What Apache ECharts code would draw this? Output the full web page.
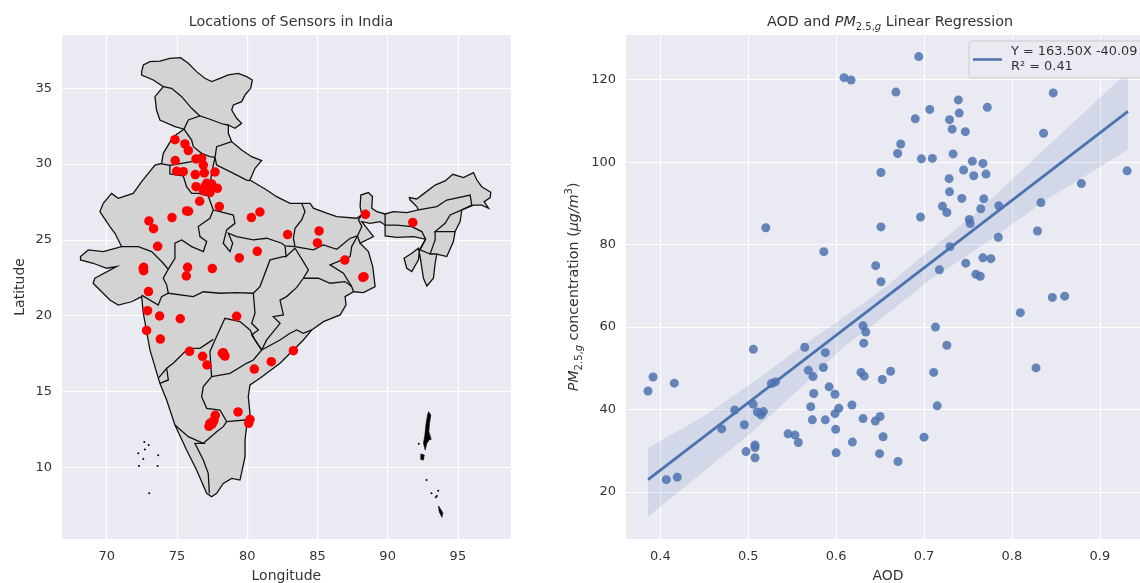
<!DOCTYPE html>
<html>
<head>
<meta charset="utf-8">
<style>html,body{margin:0;padding:0;background:#fff}#c{width:1140px;height:583px}</style>
<script src="https://cdn.jsdelivr.net/npm/echarts@6/dist/echarts.min.js"></script>
</head>
<body>
<div id="c"></div>
<script>
const lonTicks=[70,75,80,85,90,95];
const latTicks=[10,15,20,25,30,35];
const aodTicks=[0.4,0.5,0.6,0.7,0.8,0.9];
const pmTicks=[20,40,60,80,100,120];

const sensors=[[74.86,31.61],[75.57,31.33],[75.81,30.89],[74.88,30.23],[76.36,30.34],[76.76,30.38],[76.88,29.94],[74.98,29.53],[75.45,29.5],[76.31,29.31],[76.95,29.42],[77.71,29.48],[76.36,28.51],[77.12,28.73],[77.47,28.69],[76.88,28.25],[77.35,28.12],[77.88,28.4],[77.12,28.4],[77.35,28.51],[77,28.51],[76.62,27.55],[78.02,27.2],[75.69,26.91],[75.83,26.89],[74.65,26.47],[73.01,26.25],[73.34,25.74],[73.63,24.58],[80.3,26.47],[80.91,26.84],[82.88,25.35],[72.63,23.19],[72.63,22.97],[72.6,23.09],[75.76,23.19],[75.67,22.62],[77.52,23.11],[79.44,23.81],[80.72,24.25],[85.12,25.59],[85,24.8],[88.42,26.69],[91.79,26.15],[86.95,23.67],[88.32,22.57],[88.23,22.53],[72.98,21.59],[72.91,20.33],[73.77,19.98],[75.24,19.8],[79.25,19.96],[72.84,19.03],[73.82,18.46],[75.9,17.65],[76.83,17.32],[77.14,16.75],[78.23,17.52],[78.42,17.34],[78.3,17.56],[78.35,17.41],[81.72,16.97],[80.51,16.48],[83.29,17.69],[79.35,13.65],[77.73,13.43],[80.2,13.16],[80.11,12.9],[77.59,13.01],[77.35,12.9],[77.28,12.7],[77.5,12.85],[77.64,13.12]];

const indiaOutline=[[72.49,36.1],[72.61,36.54],[73.08,36.76],[73.79,36.8],[74.5,36.98],[75.26,37.02],[75.81,36.65],[76.4,36.1],[76.99,35.66],[77.47,35.44],[78.07,35.66],[78.66,35.88],[79.37,35.99],[79.96,35.77],[80.37,35.55],[80.25,35],[79.85,34.56],[79.61,34.12],[79.02,33.9],[78.9,33.57],[79.25,33.02],[79.61,32.69],[79.13,32.36],[78.66,32.58],[78.66,32.03],[78.9,31.48],[79.61,30.93],[80.32,30.49],[81.03,30.23],[80.56,29.72],[80.2,28.95],[81.39,28.29],[82.1,27.85],[83.05,27.41],[83.88,27.41],[84.48,27.41],[84.71,27.09],[85.66,26.76],[86.38,26.54],[87.8,26.43],[88.16,26.65],[88.04,27.2],[88.09,27.96],[88.63,28.12],[88.92,27.86],[88.87,27.09],[89.22,26.87],[89.82,26.71],[90.41,26.87],[91.36,26.8],[92.19,26.98],[92.07,27.2],[91.6,27.63],[91.55,27.79],[92.07,27.7],[92.67,28.12],[93.38,28.62],[94.09,28.89],[94.64,29.33],[95.4,29.11],[96.11,29.44],[96.35,28.95],[96.7,28.51],[97.34,28.14],[97.3,27.79],[96.87,27.52],[97.18,27.09],[96.7,27.3],[96.11,27.3],[95.28,26.98],[95.16,26.21],[94.8,25.55],[94.68,24.89],[94.21,23.9],[93.5,24.07],[93.38,23.46],[93.26,22.47],[92.79,21.96],[92.55,22.47],[92.31,23.9],[92.19,24.45],[91.72,24.12],[91.17,23.79],[91.36,23.13],[91.72,22.91],[92.19,23.68],[92.26,24.34],[92.7,25.05],[91.84,25.22],[90.65,25.17],[89.82,25.26],[89.82,25.98],[89.46,26.2],[88.75,26.09],[88.16,26.2],[88.63,25.65],[88.99,25.22],[88.04,24.78],[88.63,24.23],[88.94,23.24],[89.11,21.92],[88.28,21.52],[87.57,21.58],[86.97,21.26],[87.04,20.71],[86.62,20.05],[85.43,19.61],[84.6,19.06],[84,18.4],[83.29,17.74],[82.34,16.86],[80.91,15.87],[80.2,15.43],[80.08,14.66],[80.2,13.56],[79.96,12.68],[79.85,11.8],[79.85,10.7],[79.49,9.16],[78.9,9.27],[78.3,8.94],[77.83,8.28],[77.47,8.06],[77.12,8.28],[76.4,9.82],[75.69,11.14],[74.86,12.79],[74.27,14.44],[73.79,15.54],[73.08,17.74],[72.61,20.16],[72.49,21.26],[71.77,20.92],[70.82,20.7],[70.23,21.04],[69.04,22.14],[69.16,22.47],[70.71,23.24],[70,23.13],[69.04,23.46],[68.14,23.68],[68.14,23.9],[68.69,24.34],[69.76,24.23],[71.06,24.56],[70.59,25.44],[70.23,25.88],[69.52,26.87],[69.76,27.41],[70.35,28.07],[70.82,27.74],[71.89,28.07],[72.49,28.84],[73.44,29.94],[73.91,30.05],[74.03,30.71],[74.74,31.81],[75.5,32.3],[74.86,32.47],[73.79,32.91],[73.55,33.57],[73.44,34.45],[74.03,35.11],[73.32,35.55],[72.49,35.88]];

const stateBorders=[
[[74.03,35.11],[74.62,35],[75.34,34.45],[76.05,33.68],[76.64,33.18]],
[[75.5,32.3],[75.81,32.91],[76.64,33.18],[77.35,32.96],[78.3,32.63],[78.66,32.58]],
[[75.5,32.3],[76.05,31.59],[76.17,31.15],[76.76,30.71],[77.35,30.49],[77.71,30.45]],
[[78.9,31.48],[77.83,31.15],[77.71,30.45]],
[[77.71,30.45],[77.83,29.94],[78.78,29.5],[79.96,28.95],[80.2,28.91]],
[[73.91,30.01],[74.5,29.92],[74.5,29.35],[75.45,29.22],[75.69,28.51],[76.05,28.07],[76.52,28.07],[77.23,27.9]],
[[74.5,29.92],[76.05,30.16],[76.52,30.53],[76.76,30.71]],
[[77.71,30.45],[77.47,29.39],[77.35,28.51],[77.23,27.9]],
[[77.23,27.9],[77.59,26.97],[78.07,26.87],[79.02,26.64],[79.13,26.09],[78.54,25.66],[78.3,24.78],[78.78,24.23],[78.97,24.78],[78.66,25.44],[79.25,25.22],[80.44,25],[81.39,25.11],[82.46,24.78],[82.7,24.6],[83.41,24.56]],
[[77.59,26.97],[77.35,26.43],[76.52,25.88],[76.64,25.22],[77.12,24.89],[76.88,24.23],[76.05,24.56],[75.34,25],[74.86,24.78],[74.86,23.79],[74.38,23.06]],
[[71.06,24.56],[72.25,24.56],[73.2,24.23],[74.03,23.46],[74.38,23.06],[74.03,22.47],[74.27,22.03],[74.39,21.48]],
[[72.49,21.36],[73.67,20.7],[73.91,21.26],[74.39,21.48],[76.17,21.26],[76.88,21.58],[78.07,21.48],[79.25,21.52],[80.44,21.48]],
[[80.44,21.48],[80.91,21.92],[81.63,23.68],[82.58,23.9],[82.77,23.9],[82.7,24.6]],
[[82.77,23.9],[83.41,24.45]],
[[83.88,27.41],[84.12,26.87],[83.88,26.32],[83.41,25.77],[83.29,25.11],[83.41,24.56],[84.71,24.34],[85.43,24.67],[86.38,24.38],[87.33,25.11],[87.85,25.26],[88.16,25.88],[87.92,26.32],[88.16,26.65]],
[[87.85,25.26],[88.04,24.78]],
[[87.85,25.26],[87.44,24.56],[87.33,23.9],[85.9,23.35],[86.85,22.8],[87.44,21.92],[87.57,21.58]],
[[83.41,24.45],[84,23.57],[84.36,23.02],[84,22.47],[83.53,21.87],[82.81,21.26],[82.34,21.03],[82.58,20.05],[81.86,19.94],[82.34,19.5],[81.39,18.4],[81.03,17.74]],
[[84,22.47],[85.07,22.47],[85.9,22.14],[86.97,22.25],[87.44,21.92]],
[[80.44,21.48],[80.56,20.16],[80.32,19.5],[80.8,19.06],[80.32,18.73],[81.03,17.74]],
[[81.03,17.74],[80.56,18.4],[80.2,19.06],[79.49,19.61],[78.42,19.83],[77.71,18.4],[77.35,17.63],[77.47,15.98]],
[[73.67,15.87],[74.27,16.53],[74.74,16.86],[75.81,17.85],[76.64,17.85],[77.59,18.44]],
[[73.79,15.54],[74.39,15.76],[74.27,16.53]],
[[77.47,15.98],[78.78,16.2],[79.96,16.86],[80.44,17.08],[81.03,17.74],[82.34,18.4],[83.05,18.84],[83.53,19.06],[84,18.84],[84.6,19.06]],
[[77.47,15.98],[76.88,15.32],[76.76,14.66],[77.12,13.89],[78.07,13.78],[78.54,13.01],[79.85,13.12],[80.2,13.3]],
[[78.54,13.01],[78.3,12.68],[77.83,12.35],[76.88,11.58]],
[[74.86,12.79],[75.81,12.02],[76.88,11.58],[76.28,11.58],[76.88,10.48],[77.23,9.6],[77.31,8.28]],
[[89.82,26.71],[89.82,25.98],[90.65,25.98],[91.72,25.87],[92.43,25.55],[92.7,25.05]],
[[92.19,26.98],[93.5,27.2],[94.21,27.63],[95.87,27.96],[95.99,27.3],[95.28,26.98]],
[[95.28,26.98],[94.45,26.65],[94.09,26.1],[93.38,25.55],[94.8,25.55]],
[[93.38,25.55],[93.38,25],[93.02,24.07],[93.5,24.07]],
[[92.7,25.05],[92.31,24.34],[93.02,24.07]]
];

const andamanIslands=[
[[92.91,13.67],[93.07,13.45],[92.98,12.9],[92.93,12.35],[93.1,11.84],[92.98,11.84],[92.79,11.58],[92.67,11.14],[92.55,11.58],[92.65,12.13],[92.74,12.9],[92.84,13.45]],
[[92.36,10.88],[92.6,10.81],[92.55,10.48],[92.36,10.52]],
[[93.62,7.45],[93.93,7],[93.86,6.7],[93.67,7.07]]
];
const smallIslands=[[92.22,11.56],[92.77,9.16],[93.12,8.28],[93.43,8.02],[93.5,8.1],[93.6,8.45],[72.68,11.67],[72.99,11.47],[72.72,11.18],[72.25,10.92],[72.61,10.55],[73.67,10.79],[72.3,10.08],[73.63,10.08],[73.03,8.28]];

const aodPm=[[0.609,120.5],[0.617,119.9],[0.52,84.1],[0.586,78.3],[0.645,74.9],[0.651,71],[0.651,97.5],[0.651,84.3],[0.694,125.6],[0.668,117],[0.739,115.1],[0.7065,112.8],[0.772,113.3],[0.74,111.9],[0.847,116.8],[0.69,110.5],[0.729,110.3],[0.732,108],[0.747,107.4],[0.836,107],[0.6735,104.4],[0.67,102.1],[0.733,102],[0.697,100.8],[0.7095,100.9],[0.755,100.2],[0.767,99.7],[0.745,98.1],[0.7565,96.7],[0.7705,97.1],[0.931,97.9],[0.7285,96],[0.729,92.8],[0.743,91.2],[0.768,91.1],[0.879,94.8],[0.721,89.3],[0.726,87.8],[0.7645,88.7],[0.785,89.4],[0.833,90.2],[0.696,86.7],[0.7515,86.1],[0.7525,85.1],[0.829,83.3],[0.7845,81.8],[0.7295,79.5],[0.767,76.8],[0.776,76.6],[0.7475,75.5],[0.7175,73.9],[0.759,72.8],[0.764,72.3],[0.846,67.2],[0.86,67.5],[0.8096,63.5],[0.713,60],[0.726,55.6],[0.711,49],[0.8274,50.1],[0.662,49.3],[0.6525,47.3],[0.715,40.9],[0.65,38.3],[0.6534,33.4],[0.7,33.3],[0.6704,27.4],[0.6494,29.3],[0.6306,60.3],[0.6337,58.8],[0.6314,56.1],[0.5058,54.6],[0.5643,55.1],[0.5877,53.8],[0.5684,49.5],[0.5855,50.2],[0.5737,48],[0.6283,49],[0.632,48.1],[0.3917,47.9],[0.4159,46.4],[0.386,44.5],[0.5263,46.3],[0.5309,46.7],[0.592,45.5],[0.5745,43.9],[0.5987,43.7],[0.5055,41.3],[0.5711,40.7],[0.603,40.3],[0.618,41.1],[0.5987,39],[0.4846,39.9],[0.5104,39.4],[0.5172,39.5],[0.5146,38.7],[0.5729,37.5],[0.5877,37.5],[0.6306,37.8],[0.6446,37.2],[0.4956,36.3],[0.4698,35.3],[0.5995,35.2],[0.5453,34.1],[0.5532,33.8],[0.557,32],[0.6185,32.1],[0.5077,31.4],[0.5077,30.8],[0.4975,29.8],[0.6,29.5],[0.5077,28.3],[0.4068,23],[0.4193,23.6]];

const fitLine=[[0.386,23],[0.932,112.3]];
const bandUpper=[[0.386,30.7],[0.4517,38.7],[0.5067,46.8],[0.5655,56],[0.6064,62.1],[0.6565,69.8],[0.7065,78.7],[0.7589,87.6],[0.932,122]];
const bandLower=[[0.386,14],[0.4934,32.6],[0.5067,35],[0.5655,46.4],[0.6064,54.8],[0.6565,62.9],[0.7065,71.4],[0.7589,78.7],[0.84,91],[0.932,103]];

const fitName='Y = 163.50X -40.09\nR² = 0.41';
const FONT='DejaVu Sans';
const INK='#333333';
const BLUE='#4C72B0';

function has(list,v){return list.some(t=>Math.abs(t-v)<1e-6);}
function axisBase(ticks,fmt,margin){
  return {
    type:'value',scale:true,
    axisLine:{show:false},axisTick:{show:false},
    splitLine:{show:true,lineStyle:{color:'#ffffff',width:1.2}},
    axisLabel:{color:INK,fontFamily:FONT,fontSize:13,margin,showMinLabel:true,showMaxLabel:true,
      formatter:v=>has(ticks,v)?fmt(v):''},
    nameTextStyle:{color:INK,fontFamily:FONT,fontSize:14},
    nameLocation:'middle'
  };
}
const rich={
  a:{fontFamily:FONT,fontSize:14.3,color:INK,lineHeight:20},
  i:{fontFamily:FONT,fontStyle:'italic',fontSize:14.3,color:INK,lineHeight:20},
  s:{fontFamily:FONT,fontStyle:'italic',fontSize:10,color:INK,lineHeight:20,verticalAlign:'bottom'},
  n:{fontFamily:FONT,fontSize:10,color:INK,lineHeight:20,verticalAlign:'bottom'},
  u:{fontFamily:FONT,fontSize:10,color:INK,lineHeight:20,verticalAlign:'top'}
};

const chart=echarts.init(document.getElementById('c'),null,{renderer:'canvas'});
chart.setOption({
  animation:false,
  backgroundColor:'#ffffff',
  title:[
    {text:'Locations of Sensors in India',left:286,top:10,textAlign:'center',
     textStyle:{fontFamily:FONT,fontSize:14.3,fontWeight:'normal',color:INK}},
    {text:'{a|AOD and }{i|PM}{n|2.5,}{s|g}{a| Linear Regression}',left:885,top:7,textAlign:'center',
     textStyle:{fontFamily:FONT,fontSize:14.3,fontWeight:'normal',color:INK,rich}}
  ],
  grid:[
    {left:61,right:628.3,top:34.5,bottom:43.7,backgroundColor:'#EAEAF2',borderWidth:0,show:true,outerBoundsMode:'none'},
    {left:625,right:-11,top:34.5,bottom:43.7,backgroundColor:'#EAEAF2',borderWidth:0,show:true,outerBoundsMode:'none'}
  ],
  legend:{
    data:[fitName],left:969,top:41,orient:'vertical',padding:[3.5,12,3.5,4],
    icon:'rect',itemWidth:29,itemHeight:2.5,itemGap:0,
    backgroundColor:'rgba(234,234,242,0.8)',borderColor:'#cccccc',borderWidth:1,borderRadius:3,
    textStyle:{fontFamily:FONT,fontSize:12.9,color:INK,lineHeight:15,padding:[0,0,0,4]}
  },
  xAxis:[
    Object.assign(axisBase(lonTicks,v=>String(v),11),{gridIndex:0,min:66.75,max:98.83,splitNumber:6,name:'Longitude',nameGap:30}),
    Object.assign(axisBase(aodTicks,v=>v.toFixed(1),11),{gridIndex:1,min:0.3598,max:0.9582,splitNumber:6,name:'AOD',nameGap:30})
  ],
  yAxis:[
    Object.assign(axisBase(latTicks,v=>String(v),9),{gridIndex:0,min:5.25,max:38.55,splitNumber:7,name:'Latitude',nameGap:34}),
    Object.assign(axisBase(pmTicks,v=>String(v),9),{gridIndex:1,min:8.53,max:130.96,splitNumber:6,nameGap:41,
      name:'{i|PM}{n|2.5,}{s|g}{a| concentration (}{i|μg/m}{u|3}{a|)}',
      nameTextStyle:{color:INK,fontFamily:FONT,fontSize:14,rich}})
  ],
  series:[
    {type:'custom',xAxisIndex:0,yAxisIndex:0,silent:true,z:2,clip:false,
     data:[indiaOutline].concat(andamanIslands).map(p=>p[0]),
     renderItem(params,api){
       const isMain=params.dataIndex===0;
       const poly=[indiaOutline].concat(andamanIslands)[params.dataIndex];
       return {type:'polygon',shape:{points:poly.map(p=>api.coord(p))},
         style:{fill:isMain?'#D3D3D3':'#000000',stroke:'#111111',lineWidth:isMain?1.3:0.7}};
     }},
    {type:'custom',xAxisIndex:0,yAxisIndex:0,silent:true,z:3,
     data:stateBorders.map(p=>p[0]),
     renderItem(params,api){
       return {type:'polyline',shape:{points:stateBorders[params.dataIndex].map(p=>api.coord(p))},
         style:{fill:null,stroke:'#111111',lineWidth:1.3}};
     }},
    {type:'scatter',xAxisIndex:0,yAxisIndex:0,data:smallIslands,symbolSize:2,silent:true,z:3,
     itemStyle:{color:'#000000',opacity:1}},
    {type:'scatter',xAxisIndex:0,yAxisIndex:0,data:sensors,symbolSize:9.5,silent:true,z:4,
     itemStyle:{color:'#FF0000',opacity:1}},
    {type:'custom',xAxisIndex:1,yAxisIndex:1,silent:true,z:2,
     data:[bandUpper[0]],
     renderItem(params,api){
       const pts=bandUpper.concat(bandLower.slice().reverse()).map(p=>api.coord(p));
       return {type:'polygon',shape:{points:pts},style:{fill:'rgba(76,114,176,0.15)'}};
     }},
    {type:'scatter',xAxisIndex:1,yAxisIndex:1,data:aodPm,symbolSize:9,silent:true,z:3,
     itemStyle:{color:BLUE,opacity:0.85}},
    {type:'line',name:fitName,xAxisIndex:1,yAxisIndex:1,data:fitLine,showSymbol:false,symbol:'none',silent:true,z:4,
     lineStyle:{color:BLUE,width:2.8},itemStyle:{color:BLUE}}
  ]
});
</script>
</body>
</html>
